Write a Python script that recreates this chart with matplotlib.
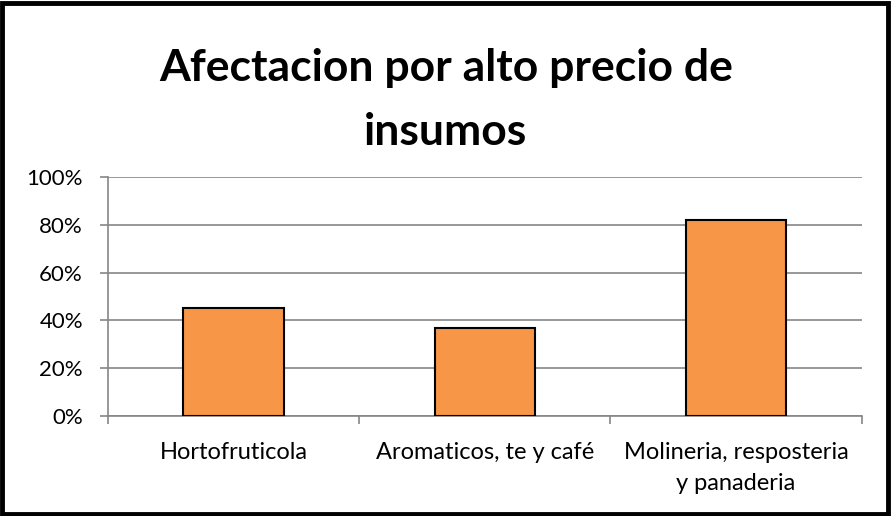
import matplotlib.pyplot as plt
from matplotlib.patches import Rectangle
from matplotlib.ticker import FixedLocator, PercentFormatter

# Data
categories = ["Hortofruticola", "Aromaticos, te y café", "Molineria, resposteria\ny panaderia"]
values = [0.45, 0.37, 0.82]
yticks = [0, 0.2, 0.4, 0.6, 0.8, 1.0]

plt.rcParams['font.family'] = ['Lato', 'DejaVu Sans']

fig = plt.figure(figsize=(8.92, 5.16), dpi=100)
ax = fig.add_axes([0.121, 0.194, 0.845, 0.463])

x = list(range(len(categories)))
ax.bar(x, values, width=0.4, color='#F79646', edgecolor='black', linewidth=1.5, zorder=3)

ax.set_xlim(-0.5, len(categories) - 0.5)
ax.set_ylim(0, 1.0)
ax.set_yticks(yticks)
ax.yaxis.set_major_formatter(PercentFormatter(1.0, decimals=0))
ax.grid(axis='y', color='#868686', linewidth=1.2, zorder=0)

ax.set_xticks(x)
ax.set_xticklabels(categories, fontsize=17, linespacing=1.6)
ax.xaxis.set_minor_locator(FixedLocator([i - 0.5 for i in range(len(categories) + 1)]))
ax.tick_params(axis='x', which='major', length=0, pad=19)
ax.tick_params(axis='x', which='minor', length=6, color='#868686', width=1.2)
ax.tick_params(axis='y', length=6, color='#868686', width=1.2, labelsize=16, pad=12)

for side in ['top', 'right']:
    ax.spines[side].set_visible(False)
for side in ['left', 'bottom']:
    ax.spines[side].set_color('#868686')
    ax.spines[side].set_linewidth(1.2)

fig.text(0.5, 0.806, "Afectacion por alto precio de\ninsumos", ha='center', va='center',
         fontsize=32, fontweight='bold', linespacing=1.72)

# thick black frame around the whole figure
fig.patches.append(Rectangle((0.002, 0.004), 0.994, 0.99, transform=fig.transFigure,
                             fill=False, edgecolor='black', linewidth=3.5))

fig.savefig('out.png', dpi=100)
